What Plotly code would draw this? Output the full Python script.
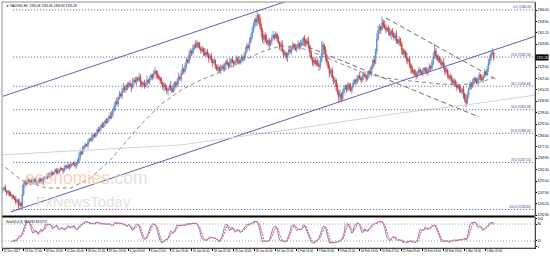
import plotly.graph_objects as go
import pandas as pd

# ---------------- data ----------------
FIRST_OPEN = 1248.6
CLOSES = [
    1249.5, 1250.8, 1248.9, 1247.6, 1248.2, 1246.1, 1245.3, 1246.0, 1244.2, 1243.5,
    1241.8, 1242.6, 1239.5, 1240.8, 1238.9, 1246.5, 1252.8, 1254.6, 1253.1, 1255.9,
    1254.2, 1255.3, 1253.8, 1254.9, 1256.1, 1254.7, 1253.6, 1255.2, 1256.4, 1255.0, 1254.3, 1256.8,
    1257.5, 1256.9, 1258.3, 1259.6, 1258.8, 1260.2, 1259.4, 1261.0, 1262.3, 1261.5, 1260.7, 1262.1, 1263.4,
    1262.6, 1261.8, 1263.5, 1264.8, 1263.9, 1265.2, 1264.4, 1265.9, 1266.7, 1265.8, 1264.9, 1266.3, 1267.5,
    1270.2, 1273.8, 1272.9, 1276.1,
    1277.4, 1279.0, 1278.2, 1280.5, 1282.1, 1281.3, 1283.6, 1285.0, 1284.1, 1286.4, 1288.2, 1287.5, 1289.7,
    1291.3, 1290.4, 1292.6, 1294.1, 1293.2, 1295.5, 1297.0, 1296.2,
    1298.5, 1301.2, 1303.8, 1306.5, 1305.1, 1308.9, 1311.6, 1310.2,
    1313.5, 1315.8, 1314.2, 1317.0, 1316.1, 1318.4, 1317.3, 1315.9, 1319.2, 1320.6, 1319.4, 1321.8, 1320.5, 1322.3,
    1319.1, 1317.6, 1318.8, 1316.9, 1318.2, 1320.4, 1319.3, 1321.5,
    1323.8, 1322.4, 1324.9, 1326.2, 1324.6, 1323.1, 1321.7, 1320.3,
    1318.5, 1316.2, 1317.4, 1315.1, 1313.6, 1314.8, 1316.9, 1315.3, 1313.2, 1316.5, 1318.9, 1317.2, 1319.8, 1322.6, 1321.4,
    1324.9, 1327.8, 1326.3, 1330.1, 1333.5, 1332.2, 1336.8, 1339.4, 1338.1, 1341.6, 1343.2, 1342.0, 1344.5, 1343.3,
    1341.2, 1339.6, 1340.8, 1338.3, 1336.9, 1338.7, 1337.2, 1334.8, 1336.1, 1333.6, 1331.9, 1333.2,
    1329.8, 1327.5, 1328.9, 1326.4, 1327.7, 1329.3, 1328.1,
    1330.6, 1332.4, 1331.1, 1329.7, 1331.8, 1333.9, 1332.5, 1330.9, 1332.7, 1334.6, 1333.2, 1331.6, 1333.8, 1335.4, 1334.1, 1336.7,
    1339.2, 1342.8, 1341.5, 1345.3, 1348.6, 1352.1,
    1356.4, 1359.8, 1358.2, 1362.5, 1360.1, 1355.7, 1352.3,
    1346.8, 1349.5, 1347.2, 1344.6, 1346.1, 1343.4, 1345.8,
    1347.9, 1349.6, 1348.2, 1350.3, 1347.5, 1344.8, 1342.1, 1343.7,
    1339.5, 1336.8, 1338.2, 1335.4, 1337.6, 1340.2, 1338.9,
    1341.3, 1343.5, 1342.1, 1340.4, 1342.8, 1344.1, 1341.9, 1343.6,
    1345.2, 1347.8, 1346.3, 1344.0, 1345.9, 1342.6,
    1338.4, 1334.7, 1331.9, 1333.5,
    1331.2, 1332.8, 1330.4, 1329.6, 1333.1,
    1337.9, 1343.4, 1340.2, 1335.8, 1332.1, 1328.5,
    1325.3, 1326.9, 1322.4, 1319.8, 1320.6, 1316.4, 1313.2,
    1309.8, 1311.5, 1308.3, 1312.6, 1315.1,
    1316.8, 1314.3, 1317.5, 1315.9, 1313.8, 1316.2, 1318.7,
    1320.4, 1319.1, 1321.6, 1323.2, 1321.8, 1320.5, 1322.7, 1324.3, 1323.0, 1321.4, 1323.9, 1326.1, 1324.8,
    1328.6, 1333.4, 1331.7, 1338.9, 1347.2, 1352.6,
    1355.1, 1353.4, 1357.8, 1356.2, 1354.5, 1352.9,
    1354.1, 1351.6, 1349.8, 1352.3, 1350.5, 1347.9, 1349.4, 1346.2, 1344.8, 1347.1, 1343.5,
    1340.2, 1337.6, 1338.9, 1335.3, 1332.8, 1334.1, 1330.5, 1327.9,
    1325.6, 1326.8, 1324.2, 1323.1, 1325.4, 1327.2, 1326.0, 1324.7, 1326.5, 1328.1, 1326.9, 1325.3, 1327.6, 1329.4, 1328.2,
    1331.8, 1335.6, 1339.4, 1336.2, 1333.8, 1335.1, 1332.4, 1330.6, 1331.9,
    1328.3, 1325.7, 1327.0, 1323.4, 1321.8, 1322.9,
    1320.5, 1318.7, 1319.9, 1317.2, 1315.6, 1316.8, 1314.3, 1313.1, 1314.6, 1311.4,
    1308.2, 1305.9, 1310.7, 1314.9,
    1318.3, 1316.5, 1319.2, 1321.6, 1320.1, 1318.8, 1321.3, 1323.7, 1322.2,
    1320.6, 1322.9, 1325.8, 1324.1, 1327.5,
    1331.2, 1334.9, 1337.6, 1338.3, 1335.28,
]
UP_WICK = [
    1,1,2,0,1,1,2,1,0,1,2,1,1,3,1,6,2,1,1,2,1,0,1,2,1,
    1,2,0,1,1,2,1,1,0,2,1,1,2,1,0,1,1,2,1,1,0,1,2,1,1,
    2,1,1,0,1,2,1,2,3,2,1,2,1,1,0,2,1,1,2,1,1,0,1,2,1,
    1,2,1,1,2,0,1,3,2,1,2,1,3,1,2,1,2,3,1,1,2,1,2,1,3,
    1,2,1,1,3,2,1,1,2,1,3,1,2,1,1,2,3,1,2,1,1,2,1,2,1,
    2,1,1,3,1,2,1,1,2,3,1,2,3,1,2,2,1,3,2,1,2,1,3,2,1,
    2,1,2,1,3,1,2,1,1,2,1,2,1,1,2,1,3,1,2,1,1,2,1,3,1,
    2,1,1,2,1,3,1,2,1,2,3,2,1,3,2,3,2,1,2,3,1,3,2,2,1,
    2,3,1,2,1,2,3,1,2,1,2,1,2,3,1,2,1,1,2,3,1,2,1,2,1,
    2,1,3,2,1,2,1,2,3,1,2,1,1,2,1,2,1,3,8,2,1,2,1,1,2,
    1,2,1,2,1,2,1,3,1,2,2,1,1,2,1,3,1,2,1,1,2,1,3,1,2,
    1,2,1,2,1,3,2,1,3,2,4,3,2,1,4,2,3,2,1,2,3,1,2,1,2,
    3,1,2,1,2,1,2,1,3,1,2,1,2,1,1,2,1,2,1,1,2,1,1,2,1,
    2,1,2,3,5,2,1,2,1,2,1,3,1,2,1,1,2,1,1,2,1,2,1,1,2,
    1,2,1,3,2,1,2,1,2,1,1,2,1,2,1,2,1,2,1,2,3,2,2,3,1,
]
DN_WICK = [
    1,0,1,2,1,1,0,2,1,1,2,1,3,1,2,1,1,2,1,0,1,2,1,1,2,
    1,0,1,2,1,1,2,1,0,1,1,2,1,1,0,1,2,1,1,1,0,2,1,1,1,
    1,2,1,1,0,1,2,1,1,2,1,1,2,1,1,2,1,0,1,2,1,1,2,1,1,
    2,1,1,2,1,1,2,1,1,2,1,3,1,2,1,1,2,1,2,1,2,1,1,3,1,
    2,1,2,1,1,3,2,1,2,1,3,1,2,1,2,1,1,3,2,1,2,1,2,3,1,
    2,3,1,2,1,1,3,2,1,2,1,2,1,2,1,2,1,1,3,2,1,2,1,1,2,
    1,2,1,2,1,1,2,3,1,2,3,1,2,1,2,1,2,1,1,2,3,1,2,1,2,
    1,2,1,1,2,1,1,2,1,1,2,1,1,2,1,2,1,2,3,2,3,2,4,2,3,
    2,1,2,3,1,2,1,2,1,2,1,2,3,1,2,1,2,3,1,1,2,1,2,1,2,
    1,2,1,1,2,3,2,1,2,3,1,2,3,1,2,1,3,2,1,2,2,3,2,1,3,
    2,1,2,1,3,2,4,3,2,1,2,1,2,1,2,1,2,1,1,2,1,2,1,2,1,
    2,1,2,1,2,1,2,1,2,1,2,1,2,3,1,2,1,2,1,2,1,3,2,1,2,
    2,1,2,1,3,1,2,1,2,1,2,3,1,2,1,2,1,1,2,1,2,1,2,1,2,
    1,2,1,2,1,2,1,2,1,2,1,1,2,1,2,1,2,3,1,2,1,2,1,2,1,
    2,3,2,3,1,2,1,2,1,2,1,1,2,1,2,1,2,1,1,1,2,1,2,1,2,
]

X_LABELS = ["11 Dec 2017", "13 Dec 21:00", "18 Dec 13:00", "21 Dec 05:00", "26 Dec 21:00",
            "29 Dec 13:00", "4 Jan 05:00", "8 Jan 21:00", "11 Jan 13:00", "16 Jan 05:00",
            "18 Jan 21:00", "23 Jan 13:00", "26 Jan 05:00", "30 Jan 21:00", "2 Feb 13:00",
            "7 Feb 05:00", "9 Feb 21:00", "14 Feb 13:00", "16 Feb 17:00", "21 Feb 09:00",
            "23 Feb 13:00", "28 Feb 13:00", "1 Mar 13:00", "5 Mar 05:00"]
LABEL_EVERY = 16

PRICE_TICKS = [1366.00, 1358.60, 1351.20, 1343.80, 1336.40, 1329.00, 1321.60, 1314.20,
               1306.80, 1299.40, 1292.00, 1284.60, 1277.20, 1269.80, 1262.40, 1255.00,
               1247.60, 1240.20, 1232.80]

FIB_LEVELS = ["0.0", "23.6", "38.2", "50.0", "61.8", "76.4", "100.0"]
FIB_PRICES = [1366.05, 1335.50, 1316.60, 1301.33, 1286.05, 1267.15, 1236.60]
FIB_START_BAR = 8

# dashed moving average
MA_BARS = [-2, 14, 33, 52, 67, 82, 105, 120, 136, 151, 166, 181, 197, 212, 227, 242,
           258, 273, 288, 303, 319, 334, 349, 364, 374]
MA_PRICES = [1266.8, 1255.8, 1250.6, 1250.6, 1257.1, 1268.7, 1291.4, 1304.4, 1314.1,
             1320.6, 1325.8, 1332.3, 1338.8, 1342.7, 1341.4, 1336.8, 1331.0, 1325.8,
             1322.5, 1320.6, 1319.3, 1318.0, 1317.4, 1319.3, 1321.9]

# trend lines: (bar, price) anchors
CH_UP_BARS, CH_UP_PRICES = [0, 230], [1310.0, 1375.6]
CH_LO_BARS, CH_LO_PRICES = [6, 406], [1235.0, 1349.1]
LT_BARS, LT_PRICES = [-2, 136, 227, 303, 353, 406], [1272.0, 1278.5, 1289.5, 1299.2, 1304.4, 1310.9]
DS_UP_BARS, DS_UP_PRICES = [292, 377], [1360.8, 1320.6]
DS_LO_BARS, DS_LO_PRICES = [227, 363], [1344.0, 1296.6]

LAST_PRICE = 1335.28
TITLE = "\u25BC XAUUSD,H4  1335.46 1335.66 1334.84 1335.28"
STOCH_NAME = "Stoch(5,3,3)"

# ---------------- derived ----------------
n = len(CLOSES)
bars = list(range(n))
opens = [FIRST_OPEN] + CLOSES[:-1]
highs = [max(o, c) + w for o, c, w in zip(opens, CLOSES, UP_WICK)]
lows = [min(o, c) - w for o, c, w in zip(opens, CLOSES, DN_WICK)]

df = pd.DataFrame({"o": opens, "h": highs, "l": lows, "c": CLOSES})
hh = df["h"].rolling(5).max()
ll = df["l"].rolling(5).min()
num = (df["c"] - ll).rolling(3).sum()
den = (hh - ll).rolling(3).sum()
k = 100 * num / den
d = k.rolling(3).mean()

XMIN, XMAX = -0.5, 405.5
MAIN_DOM = [0.1301, 1.0]
STO_DOM = [0.0, 0.126]
FONT = "Liberation Sans"
FS = 3.1
FIBC = "#3a3a8a"

fig = go.Figure()
fig.add_trace(go.Candlestick(
    x=bars, open=opens, high=highs, low=lows, close=CLOSES,
    increasing=dict(line=dict(color="#5a86c4", width=0.8), fillcolor="#9cc0e8"),
    decreasing=dict(line=dict(color="#c83737", width=0.8), fillcolor="#d94a4a"),
    whiskerwidth=0, xaxis="x", yaxis="y", showlegend=False, hoverinfo="skip"))

fig.add_trace(go.Scatter(x=MA_BARS, y=MA_PRICES, mode="lines", xaxis="x", yaxis="y",
                         line=dict(color="#8a8a8a", width=1, dash="4px,3px"), showlegend=False))

def tline(bx, py, color, dash="solid", width=1):
    fig.add_trace(go.Scatter(x=bx, y=py, mode="lines", xaxis="x", yaxis="y",
                             line=dict(color=color, width=width, dash=dash),
                             showlegend=False, hoverinfo="skip"))

tline(CH_UP_BARS, CH_UP_PRICES, "#6262ad")
tline(CH_LO_BARS, CH_LO_PRICES, "#6262ad")
tline(LT_BARS, LT_PRICES, "#d2d2d2")
tline(DS_UP_BARS, DS_UP_PRICES, "#6e6e6e", "5px,3px")
tline(DS_LO_BARS, DS_LO_PRICES, "#6e6e6e", "5px,3px")

for lvl, p in zip(FIB_LEVELS, FIB_PRICES):
    fig.add_trace(go.Scatter(x=[FIB_START_BAR, XMAX], y=[p, p], mode="lines", xaxis="x", yaxis="y",
                             line=dict(color="#5050a0", width=1, dash="1px,2px"), showlegend=False))
    fig.add_annotation(x=0.997, xref="paper", y=p, yref="y", xanchor="right", yanchor="bottom",
                       text=f"{lvl} ({p:.2f})", showarrow=False, yshift=-1.5,
                       font=dict(family=FONT, size=FS, color=FIBC))

# stochastic
fig.add_trace(go.Scatter(x=bars, y=k, mode="lines", xaxis="x", yaxis="y2",
                         line=dict(color="#8c82c8", width=1), showlegend=False))
fig.add_trace(go.Scatter(x=bars, y=d, mode="lines", xaxis="x", yaxis="y2",
                         line=dict(color="#e0506a", width=1, dash="2px,1px"), showlegend=False))
for lv in [20, 80]:
    fig.add_trace(go.Scatter(x=[XMIN, XMAX], y=[lv, lv], mode="lines", xaxis="x", yaxis="y2",
                             line=dict(color="#a0a0a0", width=1, dash="1px,2px"), showlegend=False))

fig.update_layout(
    width=550, height=256, margin=dict(l=2, r=15, t=2, b=8),
    paper_bgcolor="white", plot_bgcolor="white",
    font=dict(family=FONT, size=FS, color="black"),
    xaxis=dict(domain=[0, 1], range=[XMIN, XMAX], anchor="y2", showgrid=False, zeroline=False,
               rangeslider=dict(visible=False), showline=True, linecolor="black", linewidth=1,
               tickvals=[LABEL_EVERY * i for i in range(len(X_LABELS))], ticktext=X_LABELS,
               ticks="outside", ticklen=2, tickcolor="black", tickangle=0,
               ticklabelposition="outside right", tickfont=dict(size=2.9), automargin=False),
    yaxis=dict(domain=MAIN_DOM, range=[1232.4, 1371.2], side="right", anchor="x",
               showgrid=False, zeroline=False, showline=True, linecolor="black", linewidth=1,
               tickvals=PRICE_TICKS, ticktext=[f"{v:.2f}" for v in PRICE_TICKS],
               ticks="outside", ticklen=1, tickcolor="black", tickfont=dict(size=FS),
               automargin=False),
    yaxis2=dict(domain=STO_DOM, range=[-5, 105], side="right", anchor="x",
                showgrid=False, zeroline=False, showline=True, linecolor="black", linewidth=1,
                tickvals=[0, 20, 80, 100], ticktext=["0", "20", "80", "100"],
                ticks="outside", ticklen=1, tickcolor="black", tickfont=dict(size=FS),
                automargin=False),
)

# frame / separator
fig.add_shape(type="line", xref="paper", yref="paper", x0=0, x1=1, y0=MAIN_DOM[0] - 0.002,
              y1=MAIN_DOM[0] - 0.002, line=dict(color="black", width=2))
fig.add_shape(type="rect", xref="paper", yref="paper", x0=0, x1=1, y0=0, y1=1,
              line=dict(color="#909090", width=1))

# current price tag
fig.add_annotation(x=1.0, xref="paper", y=LAST_PRICE, yref="y", xanchor="left", yanchor="middle",
                   text=f"{LAST_PRICE:.2f}", showarrow=False, bgcolor="black", borderpad=0.5,
                   font=dict(family=FONT, size=FS, color="white"))

fig.add_annotation(x=0.004, xref="paper", y=0.998, yref="paper", xanchor="left", yanchor="top",
                   text=TITLE, showarrow=False, font=dict(family=FONT, size=FS, color="black"))
fig.add_annotation(x=0.004, xref="paper", y=STO_DOM[1] - 0.004, yref="paper", xanchor="left",
                   yanchor="top", text=f"{STOCH_NAME} {k.iloc[-1]:.4f} {d.iloc[-1]:.4f}",
                   showarrow=False, font=dict(family=FONT, size=FS, color="black"))

# watermark
fig.add_annotation(x=0.158, xref="paper", y=0.285, yref="paper", showarrow=False,
                   xanchor="center", yanchor="middle",
                   text="<span style='color:#f5cba7'>economies</span><span style='color:#dcdcdc'>.com</span>",
                   font=dict(family="Liberation Sans", size=17.5), opacity=0.8)
fig.add_annotation(x=0.152, xref="paper", y=0.19, yref="paper", showarrow=False,
                   xanchor="center", yanchor="middle",
                   text="FxNewsToday", font=dict(family="Liberation Sans", size=15, color="#dadada"),
                   opacity=0.8)

fig.write_html("out.html")
